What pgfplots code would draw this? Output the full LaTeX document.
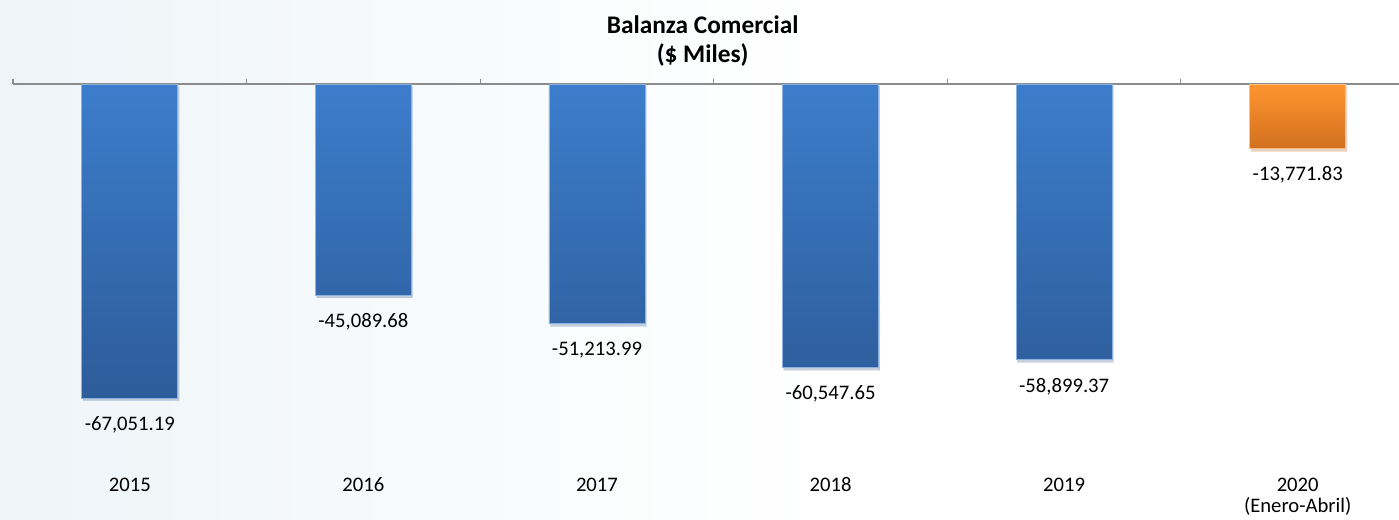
\documentclass[border=0pt]{standalone}
\usepackage{pgfplots}
\pgfplotsset{compat=1.18}
\usepackage{fontspec}
\setmainfont{Carlito}
\usetikzlibrary{shadows}

\definecolor{barblueTop}{HTML}{3C7DCB}
\definecolor{barblueBot}{HTML}{2D5C9A}
\definecolor{barorTop}{HTML}{FF9530}
\definecolor{barorBot}{HTML}{D2701F}
\definecolor{axisgray}{HTML}{8C8C8C}
\definecolor{bgleft}{HTML}{EEF5F8}

\begin{document}
\begin{tikzpicture}
  % faint background wash on the left
  \shade[left color=bgleft, right color=white, shading angle=90] (0pt,0pt) rectangle (620pt,-390pt);

  \begin{axis}[
    at={(9.75pt,-343.96pt)}, anchor=south west,
    scale only axis,
    width=1051.2pt, height=280.96pt,
    xmin=-0.5, xmax=5.5,
    ymin=-80000, ymax=0,
    axis x line*=top,
    axis y line=none,
    x axis line style={axisgray, line width=1pt, -},
    xtick={-0.5,0.5,1.5,2.5,3.5,4.5,5.5},
    xticklabels={},
    tick align=inside,
    major tick length=4pt,
    tick style={axisgray, line width=0.8pt},
    ytick=\empty,
    ybar, bar width=72pt, bar shift=0pt,
    clip=false,
    nodes near coords,
    /pgf/number format/.cd, fixed, fixed zerofill, precision=2, 1000 sep={,}, assume math mode=true,
    /pgfplots/.cd,
    every node near coord/.append style={font=\fontsize{15.5}{18}\selectfont, text=black, anchor=center, yshift=-20pt},
  ]
    \addplot[draw=barblueTop!60!white, line width=0.6pt, top color=barblueTop, bottom color=barblueBot,
      drop shadow={opacity=0.18, shadow xshift=1pt, shadow yshift=-2pt}]
      coordinates {(0,-67051.19) (1,-45089.68) (2,-51213.99) (3,-60547.65) (4,-58899.37)};
    \addplot[draw=barorTop!60!white, line width=0.6pt, top color=barorTop, bottom color=barorBot,
      drop shadow={opacity=0.18, shadow xshift=1pt, shadow yshift=-2pt}]
      coordinates {(5,-13771.83)};

    \foreach \yr [count=\i from 0] in {2015,2016,2017,2018,2019,2020} {
      \edef\temp{\noexpand\node[font=\noexpand\fontsize{15.5}{18}\noexpand\selectfont, anchor=center] at (axis cs:\i,-85630) {\yr};}
      \temp
    }
    \node[font=\fontsize{15.5}{18}\selectfont, anchor=center] at (axis cs:5,-90300) {(Enero-Abril)};
  \end{axis}

  \node[font=\fontsize{19}{22}\selectfont\bfseries, align=center, anchor=center] at (527pt,-31pt)
    {Balanza Comercial\\(\$ Miles)};

  \pgfresetboundingbox
  \useasboundingbox (0pt,0pt) rectangle (1049.25pt,-390pt);
\end{tikzpicture}
\end{document}
